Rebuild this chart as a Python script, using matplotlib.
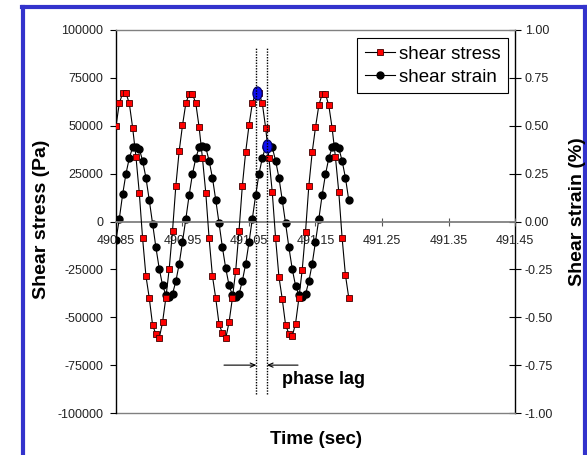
import matplotlib
matplotlib.use("Agg")
import matplotlib.pyplot as plt
from matplotlib.path import Path
from matplotlib.transforms import Affine2D
from matplotlib.lines import Line2D

plt.rcParams['font.family'] = ['Liberation Sans', 'DejaVu Sans']

# ---------------- data ----------------
time = [490.850, 490.855, 490.860, 490.865, 490.870, 490.875, 490.880, 490.885, 490.890, 490.895,
        490.900, 490.905, 490.910, 490.915, 490.920, 490.925, 490.930, 490.935, 490.940, 490.945,
        490.950, 490.955, 490.960, 490.965, 490.970, 490.975, 490.980, 490.985, 490.990, 490.995,
        491.000, 491.005, 491.010, 491.015, 491.020, 491.025, 491.030, 491.035, 491.040, 491.045,
        491.050, 491.055, 491.060, 491.065, 491.070, 491.075, 491.080, 491.085, 491.090, 491.095,
        491.100, 491.105, 491.110, 491.115, 491.120, 491.125, 491.130, 491.135, 491.140, 491.145,
        491.150, 491.155, 491.160, 491.165, 491.170, 491.175, 491.180, 491.185, 491.190, 491.195,
        491.200]

shear_stress = [49800, 61800, 67000, 67000, 61700, 49000, 33800, 15000, -8800, -28400,
                -39900, -54000, -58900, -61000, -52600, -39800, -24800, -4800, 18700, 36800,
                50200, 61700, 66600, 66600, 61700, 49200, 33100, 15000, -8800, -28400,
                -40100, -53700, -58200, -61000, -52600, -40100, -25700, -4800, 18700, 36300,
                50200, 61700, 67000, 67000, 61700, 49000, 33100, 15200, -8800, -28800,
                -40500, -54000, -58600, -59900, -53300, -40100, -25300, -5300, 18700, 36100,
                49200, 60600, 66600, 66600, 60600, 48800, 33500, 15400, -8500, -27900,
                -39800]

shear_strain = [-0.097, 0.015, 0.142, 0.250, 0.331, 0.387, 0.390, 0.380, 0.317, 0.229,
                0.112, -0.011, -0.135, -0.246, -0.333, -0.384, -0.396, -0.378, -0.312, -0.222,
                -0.105, 0.013, 0.138, 0.248, 0.331, 0.387, 0.394, 0.387, 0.317, 0.229,
                0.112, -0.010, -0.135, -0.244, -0.333, -0.384, -0.392, -0.380, -0.310, -0.222,
                -0.109, 0.014, 0.137, 0.248, 0.331, 0.390, 0.394, 0.387, 0.317, 0.229,
                0.112, -0.010, -0.135, -0.248, -0.335, -0.384, -0.394, -0.380, -0.312, -0.222,
                -0.105, 0.013, 0.138, 0.246, 0.331, 0.387, 0.396, 0.384, 0.317, 0.229,
                0.112]

# highlighted peaks (blue) and phase-lag markers
peak_time_stress = [491.0618]
peak_stress = [67000]
peak_time_strain = [491.0768]
peak_strain = [0.394]
lag_lines_time = [491.0612, 491.0768]
lag_line_top = 90700
lag_line_bottom = -90000
lag_arrow_y = -75000
lag_arrow_left_start = 491.0124
lag_arrow_right_start = 491.1237
lag_label = 'phase lag'
lag_label_pos = (491.099, -82700)

x_ticks = [490.85, 490.95, 491.05, 491.15, 491.25, 491.35, 491.45]
x_tick_labels = ['490.85', '490.95', '491.05', '491.15', '491.25', '491.35', '491.45']
stress_ticks = [-100000, -75000, -50000, -25000, 0, 25000, 50000, 75000, 100000]
stress_tick_labels = ['-100000', '-75000', '-50000', '-25000', '0', '25000', '50000', '75000', '100000']
strain_ticks = [-1.0, -0.75, -0.5, -0.25, 0.0, 0.25, 0.5, 0.75, 1.0]
strain_tick_labels = ['-1.00', '-0.75', '-0.50', '-0.25', '0.00', '0.25', '0.50', '0.75', '1.00']

# ---------------- figure ----------------
W, H = 587, 455
fig = plt.figure(figsize=(W / 100, H / 100), dpi=100)
fig.patch.set_facecolor('white')

L, R, T, B = 116, 515, 30, 413
ax1 = fig.add_axes([L / W, 1 - B / H, (R - L) / W, (B - T) / H])
ax2 = ax1.twinx()
ax1.set_zorder(ax2.get_zorder() + 1)
ax1.patch.set_visible(False)
ax2.patch.set_visible(False)

ax1.set_xlim(490.85, 491.45)
ax1.set_ylim(-100000, 100000)
ax2.set_ylim(-1.0, 1.0)

gray = '#808080'
# spines
ax1.spines['left'].set_color('black')
ax1.spines['left'].set_linewidth(1.0)
ax1.spines['top'].set_color(gray)
ax1.spines['top'].set_linewidth(1.0)
ax1.spines['right'].set_visible(False)
ax1.spines['bottom'].set_position(('data', 0))
ax1.spines['bottom'].set_color(gray)
ax1.spines['bottom'].set_linewidth(1.3)
ax2.spines['left'].set_visible(False)
ax2.spines['top'].set_visible(False)
ax2.spines['bottom'].set_color(gray)
ax2.spines['bottom'].set_linewidth(1.0)
ax2.spines['right'].set_color('black')
ax2.spines['right'].set_linewidth(1.0)

ax1.set_xticks(x_ticks)
ax1.set_xticklabels(x_tick_labels)
ax1.set_yticks(stress_ticks)
ax1.set_yticklabels(stress_tick_labels)
ax2.set_yticks(strain_ticks)
ax2.set_yticklabels(strain_tick_labels)

ax1.tick_params(axis='y', direction='out', length=4, width=0.8, labelsize=9, pad=5, colors='black',
                labelcolor='#222222')
ax2.tick_params(axis='y', direction='inout', length=8, width=0.8, labelsize=9, pad=3,
                labelcolor='#222222')
ax1.tick_params(axis='x', direction='inout', length=6, width=0.8, color='#555555', labelsize=9,
                pad=6.5, labelcolor='#222222')
ax1.xaxis.set_zorder(1)

# series
l_strain, = ax1.plot(time, shear_strain, transform=ax2.transData, color='black', lw=0.8,
                     marker='o', ms=5.0, mfc='black', mec='black', zorder=2, label='shear strain')
l_stress, = ax1.plot(time, shear_stress, color='black', lw=0.8, marker='s', ms=3.7,
                     mfc='#ff0000', mec='#400000', mew=0.6, zorder=3, label='shear stress')

ell = Path.unit_circle().transformed(Affine2D().scale(0.7, 1.0))
ax1.plot(peak_time_stress, peak_stress, linestyle='none', marker=ell, ms=9.5, mfc='#1010f0',
         mec='#000060', mew=0.8, zorder=4)
ax1.plot(peak_time_strain, peak_strain, transform=ax2.transData, linestyle='none', marker=ell,
         ms=9.5, mfc='#1010f0', mec='#000060', mew=0.8, zorder=4)

ax1.vlines(lag_lines_time, lag_line_bottom, lag_line_top, colors='black', linestyles=(0, (1, 1)),
           lw=1.0, zorder=5)

arrow_kw = dict(arrowstyle='->,head_length=0.35,head_width=0.15', lw=0.8, color='black',
                shrinkA=0, shrinkB=0)
ax1.annotate('', xy=(lag_lines_time[0], lag_arrow_y), xytext=(lag_arrow_left_start, lag_arrow_y),
             arrowprops=arrow_kw, zorder=5)
ax1.annotate('', xy=(lag_lines_time[1], lag_arrow_y), xytext=(lag_arrow_right_start, lag_arrow_y),
             arrowprops=arrow_kw, zorder=5)
ax1.text(lag_label_pos[0], lag_label_pos[1], lag_label, fontsize=13, fontweight='bold',
         ha='left', va='center', zorder=5)

leg = ax1.legend(handles=[l_stress, l_strain], loc='upper right', bbox_to_anchor=(0.982, 0.978),
                 bbox_transform=ax1.transAxes, borderaxespad=0, fontsize=13.5, frameon=True,
                 fancybox=False, edgecolor='black', framealpha=1, handlelength=1.6,
                 handletextpad=0.2, labelspacing=0.3, borderpad=0.4)
leg.get_frame().set_linewidth(0.8)

# axis titles
fig.text(42 / W, 1 - 219 / H, 'Shear stress (Pa)', rotation=90, fontsize=14, fontweight='bold',
         ha='center', va='center')
fig.text(577 / W, 1 - 212 / H, 'Shear strain (%)', rotation=90, fontsize=14, fontweight='bold',
         ha='center', va='center')
fig.text(316 / W, 1 - 439 / H, 'Time (sec)', fontsize=13.5, fontweight='bold',
         ha='center', va='center')

# blue frame
blue = '#3333cc'
fig.add_artist(Line2D([23 / W, 23 / W], [0, 1 - 7 / H], color=blue, lw=3, transform=fig.transFigure))
fig.add_artist(Line2D([21.5 / W, 1], [1 - 7 / H, 1 - 7 / H], color=blue, lw=3, transform=fig.transFigure))
fig.add_artist(Line2D([584.5 / W, 584.5 / W], [0, 1 - 7 / H], color=blue, lw=3, transform=fig.transFigure))

fig.savefig('out.png', dpi=100)
